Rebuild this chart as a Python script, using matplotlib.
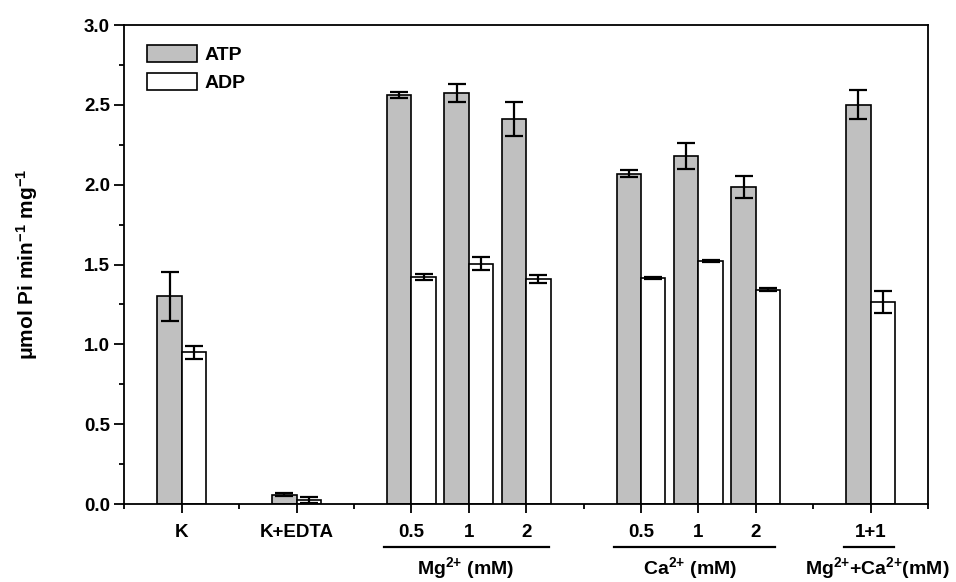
import matplotlib
matplotlib.use('Agg')
import matplotlib.pyplot as plt
import matplotlib.transforms as mtransforms
from matplotlib.ticker import FixedLocator, MultipleLocator, FormatStrFormatter
import numpy as np

plt.rcParams['font.family'] = ['Liberation Sans', 'DejaVu Sans']
plt.rcParams['font.weight'] = 'bold'
plt.rcParams['mathtext.fontset'] = 'custom'
plt.rcParams['mathtext.rm'] = 'Liberation Sans:bold'
plt.rcParams['mathtext.bf'] = 'Liberation Sans:bold'
plt.rcParams['mathtext.default'] = 'bf'

# data
labels = ['K', 'K+EDTA', '0.5', '1', '2', '0.5', '1', '2', '1+1']
pos = [1, 2, 3, 3.5, 4, 5, 5.5, 6, 7]
atp = [1.30, 0.058, 2.56, 2.575, 2.41, 2.07, 2.18, 1.985, 2.50]
atp_err = [0.155, 0.01, 0.018, 0.058, 0.105, 0.02, 0.08, 0.07, 0.09]
adp = [0.95, 0.025, 1.423, 1.505, 1.407, 1.418, 1.521, 1.343, 1.265]
adp_err = [0.04, 0.02, 0.017, 0.04, 0.025, 0.006, 0.007, 0.007, 0.068]

groups = ['Mg$^{2{+}}$ (mM)', 'Ca$^{2{+}}$ (mM)', 'Mg$^{2{+}}$+Ca$^{2{+}}$(mM)']
group_span = [(2.765, 4.2), (4.765, 6.17), (6.765, 7.2)]
group_center = [3.47, 5.43, 7.06]

fig = plt.figure(figsize=(9.56, 5.82), dpi=100)
ax = fig.add_axes([0.1302, 0.134, 0.8405, 0.823])

w = 0.213
x = np.array(pos)
ekw = dict(elinewidth=1.6, capthick=1.6)
ax.bar(x - w / 2, atp, w, color='#c0c0c0', edgecolor='black', linewidth=1.2,
       yerr=atp_err, capsize=6.5, error_kw=ekw, label='ATP', zorder=2)
ax.bar(x + w / 2, adp, w, color='white', edgecolor='black', linewidth=1.2,
       yerr=adp_err, capsize=6.5, error_kw=ekw, label='ADP', zorder=2)

ax.set_xlim(0.5, 7.5)
ax.set_ylim(0, 3.0)
ax.set_xticks(pos)
ax.set_xticklabels(labels)
ax.xaxis.set_minor_locator(FixedLocator([0.5, 1.5, 2.5, 4.5, 6.5, 7.5]))
ax.yaxis.set_major_locator(MultipleLocator(0.5))
ax.yaxis.set_minor_locator(MultipleLocator(0.25))
ax.yaxis.set_major_formatter(FormatStrFormatter('%.1f'))

ax.tick_params(axis='both', which='both', direction='out', width=1.3,
               labelsize=13.5, top=False, right=False)
ax.tick_params(axis='x', which='major', length=6.5, pad=8)
ax.tick_params(axis='x', which='minor', length=3.5)
ax.tick_params(axis='y', which='major', length=7, pad=3.5)
ax.tick_params(axis='y', which='minor', length=3.5)
for s in ax.spines.values():
    s.set_linewidth(1.3)

ax.set_ylabel('\u03bcmol Pi min$^{-1}$ mg$^{-1}$', fontsize=15, fontweight='bold')
ax.yaxis.set_label_coords(-0.105, 0.5)

# group underlines and labels
tr = mtransforms.blended_transform_factory(ax.transData, ax.transAxes)
for (a, b), c, g in zip(group_span, group_center, groups):
    ax.plot([a, b], [-0.09, -0.09], color='black', lw=1.6, transform=tr, clip_on=False)
    ax.text(c, -0.133, g, transform=tr, ha='center', va='center',
            fontsize=14, fontweight='bold')

leg = ax.legend(loc='upper left', bbox_to_anchor=(0.018, 0.975), frameon=False,
                fontsize=14, handlelength=2.6, handleheight=1.0,
                labelspacing=0.43, handletextpad=0.35, borderaxespad=0)

fig.savefig('out.png', dpi=100)
